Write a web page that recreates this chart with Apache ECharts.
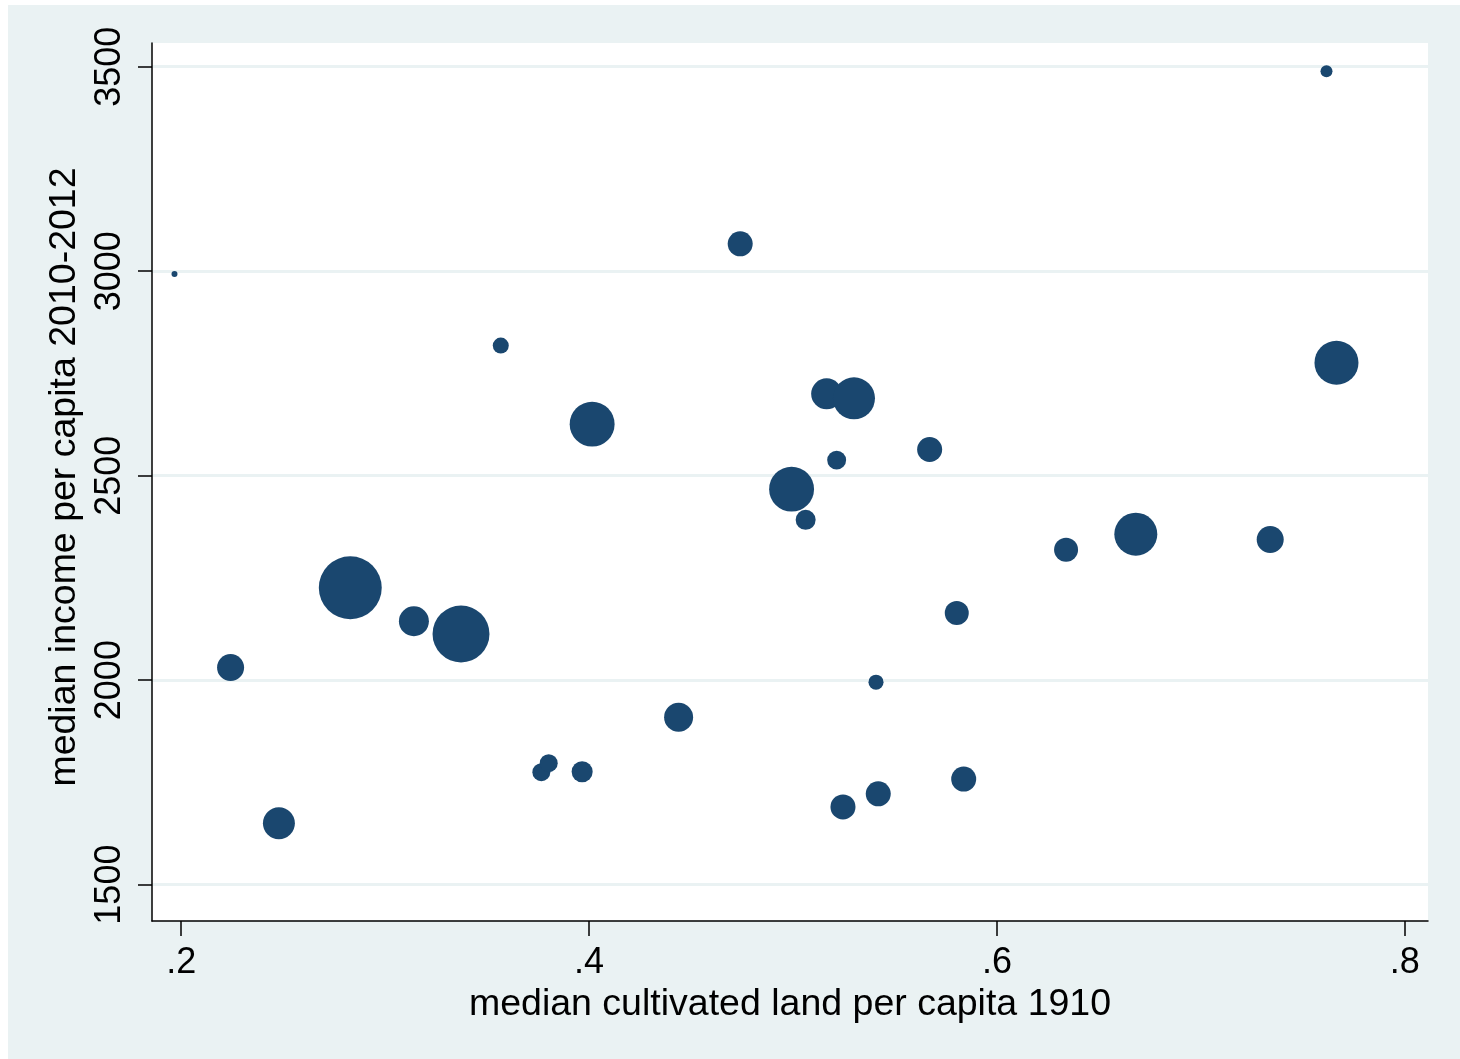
<!DOCTYPE html>
<html>
<head>
<meta charset="utf-8">
<script src="https://cdn.jsdelivr.net/npm/echarts@6/dist/echarts.min.js"></script>
<style>
html,body{margin:0;padding:0;background:#fff;}
#chart{position:absolute;left:8px;top:5px;width:1452px;height:1054px;}
</style>
</head>
<body>
<div id="chart"></div>
<script>
// median cultivated land per capita 1910
const landPerCapita = [0.1967,0.2242,0.2479,0.2829,0.3141,0.3372,0.3567,0.3766,0.3802,0.3966,0.4015,0.4439,0.4741,0.4993,0.5062,0.5165,0.5299,0.5214,0.5245,0.5407,0.5418,0.5670,0.5803,0.5837,0.6339,0.6681,0.7340,0.7616,0.7665];
// median income per capita 2010-2012
const incomePerCapita = [2993,2031,1650,2226,2144,2113,2818,1775,1797,1776,2626,1909,3067,2467,2392,2700,2689,2538,1690,1995,1722,2564,2164,1758,2319,2357,2344,3489,2776];
// bubble weights (area proportional)
const weights = [1.0,20.3,28.4,110,25,90,7.1,9,9,12.3,56,23.4,17.4,56,11.1,26.7,49,10,17.4,6.3,17.4,17.4,16,17.4,16,51.4,20.3,4,53.8];
const xTicks = [0.2,0.4,0.6,0.8];
const yTicks = [1500,2000,2500,3000,3500];
const xTickLabels = ['.2','.4','.6','.8'];
const yTickLabels = ['1500','2000','2500','3000','3500'];

const data = landPerCapita.map((x,i)=>[x, incomePerCapita[i], weights[i]]);

const chart = echarts.init(document.getElementById('chart'), null, {renderer:'canvas'});
const font = '"Liberation Sans", Arial, Helvetica, sans-serif';
chart.setOption({
  backgroundColor:'#eaf2f3',
  animation:false,
  grid:{left:144, top:38, right:32, bottom:138, show:true, backgroundColor:'#ffffff', borderWidth:0, containLabel:false},
  xAxis:{
    type:'value', min:0.18567, max:0.81138,
    name:'median cultivated land per capita 1910', nameLocation:'middle', nameGap:62,
    nameTextStyle:{fontFamily:font, fontSize:37.5, color:'#000'},
    axisLine:{show:true, onZero:false, lineStyle:{color:'#000', width:1.5}},
    axisTick:{show:true, length:15, lineStyle:{color:'#000', width:1.5}, customValues:xTicks},
    axisLabel:{show:true, customValues:xTicks, margin:24, fontFamily:font, fontSize:36, color:'#000',
      formatter:(v)=>xTickLabels[xTicks.findIndex(t=>Math.abs(t-v)<1e-9)]},
    splitLine:{show:false}
  },
  yAxis:{
    type:'value', min:1411, max:3558,
    name:'median income per capita 2010-2012', nameLocation:'middle', nameGap:61, nameRotate:90,
    nameTextStyle:{fontFamily:font, fontSize:37.5, color:'#000', padding:[0,0,0,10]},
    axisLine:{show:true, onZero:false, lineStyle:{color:'#000', width:1.5}},
    axisTick:{show:true, length:14, lineStyle:{color:'#000', width:1.5}, customValues:yTicks},
    axisLabel:{show:true, customValues:yTicks, rotate:90, margin:24, fontFamily:font, fontSize:36, color:'#000',
      formatter:(v)=>yTickLabels[yTicks.findIndex(t=>Math.abs(t-v)<1e-9)]},
    splitLine:{show:true, lineStyle:{color:'#eaf2f3', width:3}}
  },
  series:[{
    type:'scatter',
    data:data,
    symbol:'circle',
    symbolSize:(d)=>6*Math.sqrt(d[2]),
    itemStyle:{color:'#1a476f', opacity:1},
    emphasis:{disabled:true}
  }]
});
</script>
</body>
</html>
